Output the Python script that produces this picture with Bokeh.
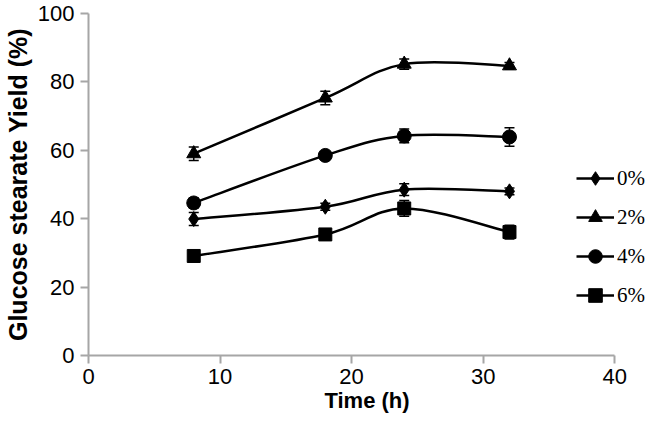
import numpy as np
from bokeh.plotting import figure
from bokeh.models import (ColumnDataSource, Whisker, TeeHead, Legend, LegendItem,
                          Range1d, FixedTicker)
from bokeh.embed import file_html
from bokeh.resources import INLINE

# ---- data ----
time = [8, 18, 24, 32]
series_names = ["0%", "2%", "4%", "6%"]
yield_0 = [39.9, 43.5, 48.5, 48.0]
err_0 = [1.9, 1.0, 1.7, 1.0]
yield_2 = [59.0, 75.3, 85.2, 84.7]
err_2 = [2.0, 2.0, 1.5, 1.0]
yield_4 = [44.6, 58.5, 64.2, 63.9]
err_4 = [1.5, 1.0, 2.0, 2.7]
yield_6 = [29.1, 35.4, 43.0, 36.1]
err_6 = [1.0, 1.0, 2.3, 2.0]
x_ticks = [0, 10, 20, 30, 40]
y_ticks = [0, 20, 40, 60, 80, 100]

markers = ["diamond", "triangle", "circle", "square"]
marker_sizes = [15, 14, 14, 13]
values = [yield_0, yield_2, yield_4, yield_6]
errors = [err_0, err_2, err_4, err_6]

W, H = 645, 428
p = figure(width=W, height=H, output_backend="svg", toolbar_location=None,
           x_range=Range1d(0, 42.34), y_range=Range1d(0, 100),
           min_border_left=85, min_border_right=0, min_border_top=13,
           min_border_bottom=73)
p.outline_line_color = None
p.xgrid.visible = False
p.ygrid.visible = False
p.background_fill_color = "white"

axis_col = "#a6a6a6"
for ax in (p.xaxis[0], p.yaxis[0]):
    ax.axis_line_color = axis_col
    ax.axis_line_width = 2
    ax.major_tick_line_color = axis_col
    ax.major_tick_line_width = 2
    ax.major_tick_in = 0
    ax.major_tick_out = 8
    ax.minor_tick_line_color = None
    ax.major_label_text_font = "Liberation Sans"
    ax.major_label_text_font_size = "22px"
    ax.major_label_text_color = "black"
    ax.axis_label_text_font = "Liberation Sans"
    ax.axis_label_text_font_style = "bold"
    ax.axis_label_text_color = "black"

p.xaxis.ticker = FixedTicker(ticks=x_ticks)
p.yaxis.ticker = FixedTicker(ticks=y_ticks)
p.xaxis.bounds = (0, 40)
p.xaxis.axis_label = "Time (h)"
p.xaxis.axis_label_text_font_size = "22px"
p.xaxis.major_label_standoff = 5
p.xaxis.axis_label_standoff = 1
p.yaxis.axis_label = "Glucose stearate Yield (%)"
p.yaxis.axis_label_text_font_size = "25px"
p.yaxis.major_label_standoff = 6
p.yaxis.axis_label_standoff = 3


def smooth_controls(xs, ys):
    xs = np.asarray(xs, float)
    ys = np.asarray(ys, float)
    n = len(xs)
    d = dict(x0=[], y0=[], x1=[], y1=[], cx0=[], cy0=[], cx1=[], cy1=[])
    for i in range(n - 1):
        a = i - 1 if i > 0 else i
        b = i + 2 if i + 2 < n else i + 1
        d["x0"].append(xs[i]); d["y0"].append(ys[i])
        d["x1"].append(xs[i + 1]); d["y1"].append(ys[i + 1])
        d["cx0"].append(xs[i] + (xs[i + 1] - xs[a]) / 6)
        d["cy0"].append(ys[i] + (ys[i + 1] - ys[a]) / 6)
        d["cx1"].append(xs[i + 1] - (xs[b] - xs[i]) / 6)
        d["cy1"].append(ys[i + 1] - (ys[b] - ys[i]) / 6)
    return d


items = []
for name, vals, errs, mk, ms in zip(series_names, values, errors, markers, marker_sizes):
    bez = p.bezier(source=ColumnDataSource(smooth_controls(time, vals)),
                   x0="x0", y0="y0", x1="x1", y1="y1",
                   cx0="cx0", cy0="cy0", cx1="cx1", cy1="cy1",
                   line_color="black", line_width=2.5)
    src = ColumnDataSource(dict(
        x=time, y=vals,
        upper=[v + e for v, e in zip(vals, errs)],
        lower=[v - e for v, e in zip(vals, errs)]))
    wh = Whisker(source=src, base="x", upper="upper", lower="lower",
                 line_color="black", line_width=1.5,
                 upper_head=TeeHead(size=10, line_color="black", line_width=1.5),
                 lower_head=TeeHead(size=10, line_color="black", line_width=1.5))
    p.add_layout(wh)
    sc = p.scatter(x="x", y="y", source=src, marker=mk, size=ms,
                   fill_color="black", line_color="black")
    items.append(LegendItem(label=name, renderers=[bez, sc]))

legend = Legend(items=items, location=(488, 43),
                background_fill_alpha=0, border_line_alpha=0,
                glyph_width=38, glyph_height=34, label_height=34,
                spacing=5, padding=0, margin=0, label_standoff=3,
                label_text_font="Liberation Serif", label_text_font_size="21px",
                label_text_color="black")
p.add_layout(legend)

open("out.html", "w").write(file_html(p, INLINE))
